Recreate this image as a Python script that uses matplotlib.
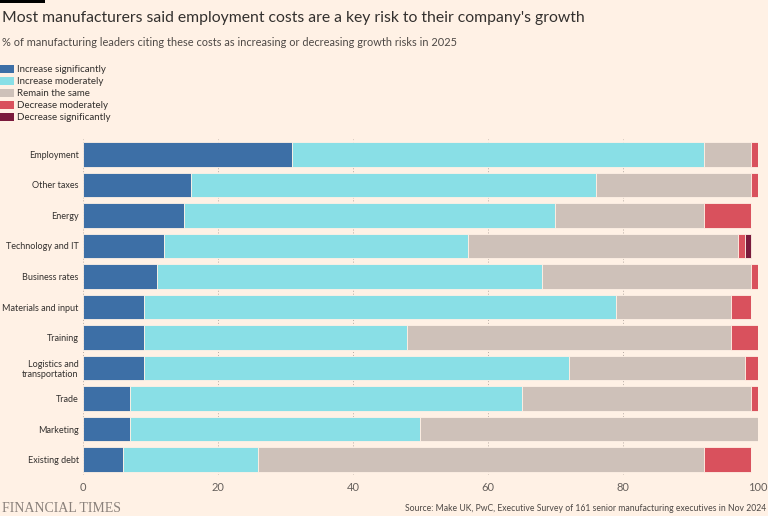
import matplotlib
matplotlib.use("Agg")
import matplotlib.pyplot as plt
import numpy as np
from matplotlib.patches import Rectangle

categories = ["Employment", "Other taxes", "Energy", "Technology and IT", "Business rates",
              "Materials and input", "Training", "Logistics and\ntransportation", "Trade",
              "Marketing", "Existing debt"]
series_names = ["Increase significantly", "Increase moderately", "Remain the same",
                "Decrease moderately", "Decrease significantly"]
increase_sig = [31, 16, 15, 12, 11, 9, 9, 9, 7, 7, 6]
increase_mod = [61, 60, 55, 45, 57, 70, 39, 63, 58, 43, 20]
remain_same = [7, 23, 22, 40, 31, 17, 48, 26, 34, 50, 66]
decrease_mod = [1, 1, 7, 1, 1, 3, 4, 2, 1, 0, 7]
decrease_sig = [0, 0, 0, 1, 0, 0, 0, 0, 0, 0, 0]
x_ticks = [0, 20, 40, 60, 80, 100]

colors = ["#3d6fa6", "#89dfe6", "#cec1b9", "#d9515d", "#7a1a3c"]
bg = "#fff1e5"
txt = "#33302e"

plt.rcParams['font.family'] = ['Lato', 'DejaVu Sans']

fig = plt.figure(figsize=(7.68, 5.16), dpi=100, facecolor=bg)
ax = fig.add_axes([0.108, 0.0795, 0.879, 0.651], facecolor=bg)

y = np.arange(len(categories))
left = np.zeros(len(categories))
for name, vals, c in zip(series_names, [increase_sig, increase_mod, remain_same, decrease_mod, decrease_sig], colors):
    vals = np.array(vals, dtype=float)
    ax.barh(y, vals, left=left, height=0.8, color=c, edgecolor=bg, linewidth=0.6, label=name, zorder=2)
    left += vals

ax.set_ylim(len(categories) - 0.5, -0.5)
ax.set_xlim(0, 100)
ax.set_yticks(y)
ax.set_yticklabels(categories, fontsize=6.5, color=txt, ha="right", linespacing=1.2)
ax.set_xticks(x_ticks)
ax.set_xticklabels([str(t) for t in x_ticks], fontsize=8, color="#66605c")
ax.tick_params(axis="x", length=0, pad=5)
ax.tick_params(axis="y", length=0, pad=3)
for s in ax.spines.values():
    s.set_visible(False)
ax.grid(axis="x", linestyle=(0, (1, 2)), color="#b8aca4", linewidth=0.7, zorder=1)
ax.set_axisbelow(True)

# Title and subtitle
fig.text(0.002, 0.965, "Most manufacturers said employment costs are a key risk to their company's growth",
         fontsize=11.3, color=txt, ha="left", va="center")
fig.text(0.002, 0.917, "% of manufacturing leaders citing these costs as increasing or decreasing growth risks in 2025",
         fontsize=7.9, color="#4d4845", ha="left", va="center")

# Legend
leg_y0 = 516 - 69
for i, (name, c) in enumerate(zip(series_names, colors)):
    yy = leg_y0 - i * 12
    fig.patches.append(Rectangle((0, (yy - 4) / 516), 14 / 768, 8 / 516, transform=fig.transFigure,
                                 facecolor=c, edgecolor="none"))
    fig.text(17 / 768, yy / 516, name, fontsize=7, color=txt, ha="left", va="center")

# FT bar at top-left
fig.patches.append(Rectangle((0, 1 - 3 / 516), 45 / 768, 3 / 516, transform=fig.transFigure,
                             facecolor="black", edgecolor="none"))

fig.text(0.002, 0.015, "FINANCIAL TIMES", fontsize=10, color="#8a817b", family=["Liberation Serif", "DejaVu Serif"],
         ha="left", va="center")
fig.text(0.998, 0.015, "Source: Make UK, PwC, Executive Survey of 161 senior manufacturing executives in Nov 2024",
         fontsize=6.2, color="#4d4845", ha="right", va="center")

fig.savefig("out.png", dpi=100, facecolor=bg)
